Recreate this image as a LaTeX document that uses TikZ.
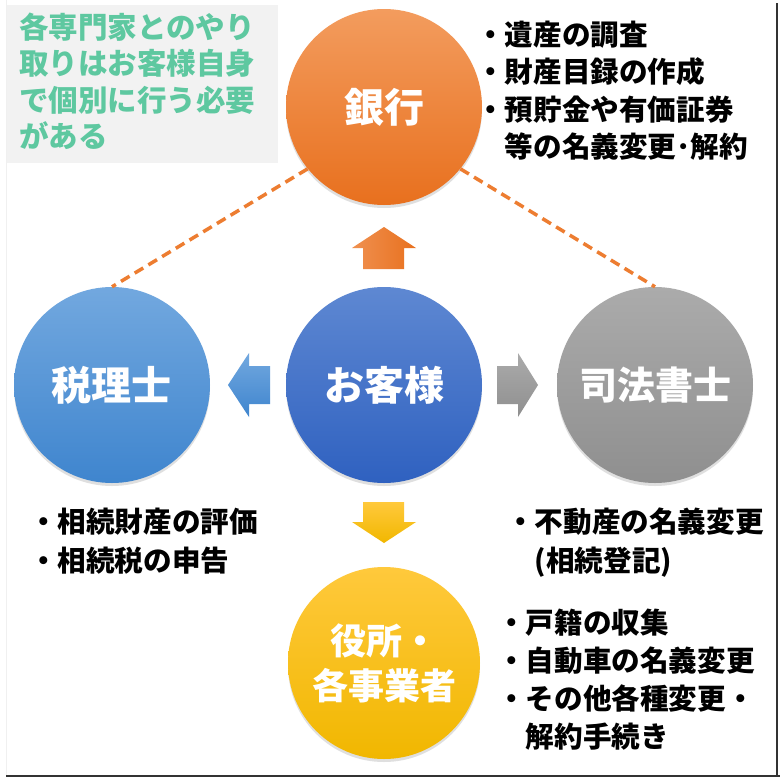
\documentclass[tikz,border=0pt]{standalone}
\usepackage{fontspec}
\setmainfont{Noto Sans CJK JP}
\usetikzlibrary{shadows}
\definecolor{orangeA}{HTML}{F39C5E}
\definecolor{orangeB}{HTML}{E8701E}
\definecolor{dashor}{HTML}{ED7D31}
\definecolor{blueA}{HTML}{5E88D2}
\definecolor{blueB}{HTML}{2F61C0}
\definecolor{skyA}{HTML}{72A8DF}
\definecolor{skyB}{HTML}{3F85CE}
\definecolor{grayA}{HTML}{ABABAB}
\definecolor{grayB}{HTML}{8F8F8F}
\definecolor{yelA}{HTML}{FFC93C}
\definecolor{yelB}{HTML}{F1B700}
\definecolor{mint}{HTML}{5EC8A0}
\definecolor{boxgray}{HTML}{F2F2F2}
\tikzset{
  circ/.style={circle, minimum size=196pt, inner sep=0pt, text=white,
    font=\bfseries\fontsize{40}{48}\selectfont,
    drop shadow={shadow xshift=0pt, shadow yshift=-3pt, opacity=0.25}},
  listtext/.style={anchor=north west, inner sep=0pt, align=left,
    font=\bfseries\fontsize{28.6}{37.3}\selectfont},
  dashlink/.style={dashor, line width=3.5pt, dash pattern=on 10pt off 6pt}
}
\begin{document}
\begin{tikzpicture}[x=1pt, y=-1pt]
\useasboundingbox (0,0) rectangle (780,777);
\fill[white] (0,0) rectangle (780,777);
% note box
\fill[boxgray] (7,5) rectangle (278,163);
\node[anchor=north west, inner sep=0pt, align=left, text=mint,
  font=\bfseries\fontsize{29.5}{36.5}\selectfont] (note) at (19,12.5)
  {各専門家とのやり\\取りはお客様自身\\で個別に行う必要\\がある};
% circles
\node[circ, top color=orangeA, bottom color=orangeB] (bank) at (384,107) {銀行};
\node[circ, top color=blueA, bottom color=blueB] (cust) at (384,385) {お客様};
\node[circ, top color=skyA, bottom color=skyB] (tax) at (112,385) {税理士};
\node[circ, top color=grayA, bottom color=grayB, font=\bfseries\fontsize{38}{46}\selectfont] (jud) at (655,385) {司法書士};
\node[circ, minimum size=192pt, top color=yelA, bottom color=yelB, align=center,
  font=\bfseries\fontsize{36}{45}\selectfont] (office) at (384,663) {役所・\\各事業者};
% dashed links
\draw[dashlink] (bank.219) -- (tax.90);
\draw[dashlink] (bank.-39) -- (jud.90);
% block arrows
\shade[left color=dashor!85!white, right color=orangeB]
  (363,269) -- (363,248) -- (352,248) -- (384,227) -- (416,248) -- (404,248) -- (404,269) -- cycle;
\shade[top color=skyA, bottom color=skyB]
  (270,366) -- (249,366) -- (249,353) -- (228,385) -- (249,417) -- (249,404) -- (270,404) -- cycle;
\shade[top color=grayA, bottom color=grayB]
  (497,366) -- (518,366) -- (518,353) -- (538,385) -- (518,417) -- (518,404) -- (497,404) -- cycle;
\shade[top color=yelA, bottom color=yelB]
  (363,502) -- (404,502) -- (404,522) -- (416,522) -- (384,543) -- (352,522) -- (363,522) -- cycle;
% lists
\node[listtext] (banklist) at (476,21)
  {・遺産の調査\\・財産目録の作成\\・預貯金や有価証券\\\hphantom{・}等の名義変更･解約};
\node[listtext, font=\bfseries\fontsize{28.6}{39}\selectfont] (taxlist) at (29,508)
  {・相続財産の評価\\・相続税の申告};
\node[listtext, font=\bfseries\fontsize{28.6}{39}\selectfont] (judlist) at (506,508)
  {・不動産の名義変更\\\hphantom{・}(相続登記)};
\node[listtext, font=\bfseries\fontsize{28.6}{38}\selectfont] (offlist) at (497,609)
  {・戸籍の収集\\・自動車の名義変更\\・その他各種変更・\\\hphantom{・}解約手続き};
% frame lines
\draw[gray!12, line width=0.8pt] (6,0) -- (6,776);
\draw[black!80, line width=1.5pt] (777,3) -- (777,776);
\draw[black!80, line width=1.5pt] (6,776) -- (780,776);
\end{tikzpicture}
\end{document}
